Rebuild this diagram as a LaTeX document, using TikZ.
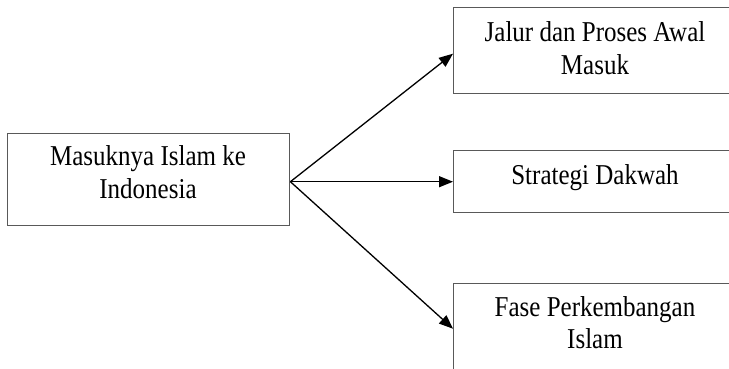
\documentclass[tikz,border=0pt]{standalone}
\usepackage{fontspec}
\usepackage{graphicx}
\setmainfont{Liberation Serif}
\usetikzlibrary{arrows.meta}
\newcommand\lbltxt[1]{\scalebox{1}[1.15]{\fontsize{25}{28}\selectfont\begin{tabular}{@{}c@{}}#1\end{tabular}}}
\begin{document}
\begin{tikzpicture}[x=1pt,y=-1pt,
  box/.style={draw=black!65,line width=1.4pt,inner sep=0pt,anchor=north west},
  lbl/.style={inner sep=0pt},
  arr/.style={line width=1.3pt,-{Triangle[length=14pt,width=11pt]}}]
\useasboundingbox (0,0) rectangle (729,368);
\clip (0,0) rectangle (729,368);
\node[box,minimum width=282pt,minimum height=92pt] (src) at (7,133) {};
\node[box,minimum width=284pt,minimum height=86pt] (t1) at (453,7) {};
\node[box,minimum width=284pt,minimum height=62pt] (t2) at (453,150) {};
\node[box,minimum width=284pt,minimum height=90pt] (t3) at (453,283) {};
\node[lbl] (srcl) at (148,175.6) {\lbltxt{Masuknya Islam ke\\Indonesia}};
\node[lbl] (t1l) at (595,51.6) {\lbltxt{Jalur dan Proses Awal\\Masuk}};
\node[lbl] (t2l) at (595,177.6) {\lbltxt{Strategi Dakwah}};
\node[lbl] (t3l) at (595,326.1) {\lbltxt{Fase Perkembangan\\Islam}};
\coordinate (o) at ([yshift=-2pt]src.east);
\draw[arr] (o) -- ([yshift=-3pt]t1.west);
\draw[arr] (o) -- (t2.west);
\draw[arr] (o) -- (t3.west);
\end{tikzpicture}
\end{document}
